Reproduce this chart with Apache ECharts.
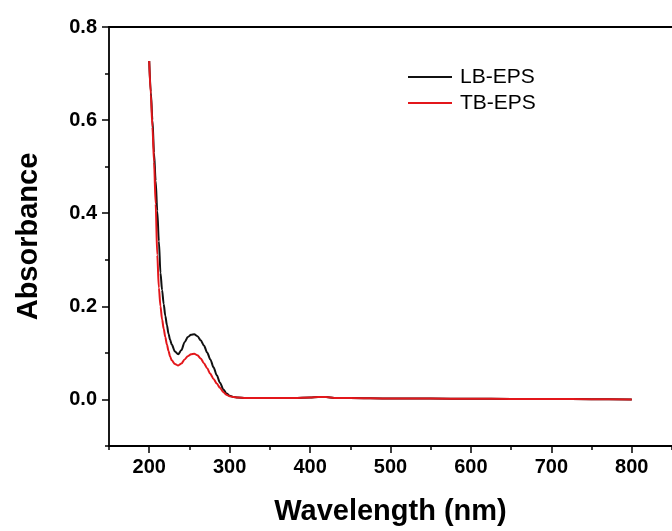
<!DOCTYPE html>
<html>
<head>
<meta charset="utf-8">
<script src="https://cdn.jsdelivr.net/npm/echarts@6/dist/echarts.min.js"></script>
<style>
html,body{margin:0;padding:0;background:#fff;}
#chart{width:672px;height:531px;}
</style>
</head>
<body>
<div id="chart"></div>
<script>
// Wavelength (nm)
const wavelengths = [200,202,204,206,208,210,212,214,216,218,220,222,224,226,228,232,236,240,244,248,252,256,260,264,268,272,276,280,284,288,292,296,300,305,310,320,350,380,400,410,420,430,450,500,550,600,650,700,750,800];
// LB-EPS absorbance
const lbEps = [0.727,0.66,0.60,0.53,0.47,0.405,0.34,0.272,0.235,0.205,0.18,0.16,0.141,0.128,0.118,0.103,0.097,0.106,0.123,0.134,0.139,0.140,0.136,0.127,0.116,0.101,0.086,0.069,0.052,0.036,0.022,0.013,0.008,0.005,0.004,0.003,0.003,0.003,0.004,0.005,0.005,0.003,0.003,0.002,0.002,0.0015,0.001,0.001,0.0005,0.0];
// TB-EPS absorbance
const tbEps = [0.727,0.655,0.585,0.51,0.42,0.31,0.24,0.20,0.172,0.152,0.134,0.118,0.104,0.092,0.084,0.076,0.073,0.077,0.086,0.093,0.097,0.098,0.095,0.088,0.078,0.067,0.055,0.044,0.034,0.025,0.016,0.010,0.007,0.005,0.004,0.003,0.003,0.003,0.004,0.005,0.005,0.003,0.003,0.002,0.002,0.0015,0.001,0.001,0.0005,0.0];
const xMajorTicks = [200,300,400,500,600,700,800];
const yMajorTicks = [0,0.2,0.4,0.6,0.8];
const seriesNames = ['LB-EPS','TB-EPS'];

const FONT = "'Liberation Sans', Arial, sans-serif";
const chart = echarts.init(document.getElementById('chart'), null, {renderer:'canvas'});
const pairs = arr => wavelengths.map((w,i)=>[w,arr[i]]);
const AXW = 1.8;

chart.setOption({
  animation:false,
  backgroundColor:'#fff',
  grid:{left:109, right:0, top:27, bottom:85},
  legend:{
    left:408, top:66, orient:'vertical', padding:0,
    icon:'rect', itemWidth:44, itemHeight:2, itemGap:4,
    textStyle:{fontFamily:FONT, fontSize:21, color:'#000', lineHeight:22, padding:[0,0,0,3]},
    data:seriesNames
  },
  xAxis:[
    {type:'value', position:'bottom', min:150, max:850, interval:50,
     name:'Wavelength (nm)', nameLocation:'middle', nameGap:51,
     nameTextStyle:{fontFamily:FONT, fontSize:29, fontWeight:'bold', color:'#000'},
     axisLine:{show:true, onZero:false, lineStyle:{color:'#000', width:AXW}},
     axisTick:{show:true, inside:false, length:4, lineStyle:{color:'#000', width:1.5}},
     axisLabel:{show:true, customValues:xMajorTicks, margin:11, fontFamily:FONT, fontSize:20, fontWeight:'bold', color:'#000'},
     splitLine:{show:false}},
    {type:'value', position:'bottom', min:150, max:850,
     axisLine:{show:false, onZero:false},
     axisTick:{show:true, customValues:xMajorTicks, length:7, lineStyle:{color:'#000', width:1.5}},
     axisLabel:{show:false}, splitLine:{show:false}},
    {type:'value', position:'top', min:150, max:850,
     axisLine:{show:true, onZero:false, lineStyle:{color:'#000', width:AXW}},
     axisTick:{show:false}, axisLabel:{show:false}, splitLine:{show:false}}
  ],
  yAxis:[
    {type:'value', position:'left', min:-0.1, max:0.8, interval:0.1,
     name:'Absorbance', nameLocation:'middle', nameGap:66, nameRotate:90,
     nameTextStyle:{fontFamily:FONT, fontSize:29, fontWeight:'bold', color:'#000'},
     axisLine:{show:true, onZero:false, lineStyle:{color:'#000', width:AXW}},
     axisTick:{show:true, length:4, lineStyle:{color:'#000', width:1.5}},
     axisLabel:{show:true, customValues:yMajorTicks, margin:12, fontFamily:FONT, fontSize:20, fontWeight:'bold', color:'#000',
       formatter:v=>v.toFixed(1)},
     splitLine:{show:false}},
    {type:'value', position:'left', min:-0.1, max:0.8,
     axisLine:{show:false, onZero:false},
     axisTick:{show:true, customValues:yMajorTicks, length:7, lineStyle:{color:'#000', width:1.5}},
     axisLabel:{show:false}, splitLine:{show:false}}
  ],
  series:[
    {name:seriesNames[0], type:'line', xAxisIndex:0, yAxisIndex:0, data:pairs(lbEps),
     symbol:'none', showSymbol:false, smooth:0.3, smoothMonotone:'x', lineStyle:{color:'#111', width:2}, itemStyle:{color:'#111'}},
    {name:seriesNames[1], type:'line', xAxisIndex:0, yAxisIndex:0, data:pairs(tbEps),
     symbol:'none', showSymbol:false, smooth:0.3, smoothMonotone:'x', lineStyle:{color:'#e3171b', width:2}, itemStyle:{color:'#e3171b'}}
  ]
});
</script>
</body>
</html>
